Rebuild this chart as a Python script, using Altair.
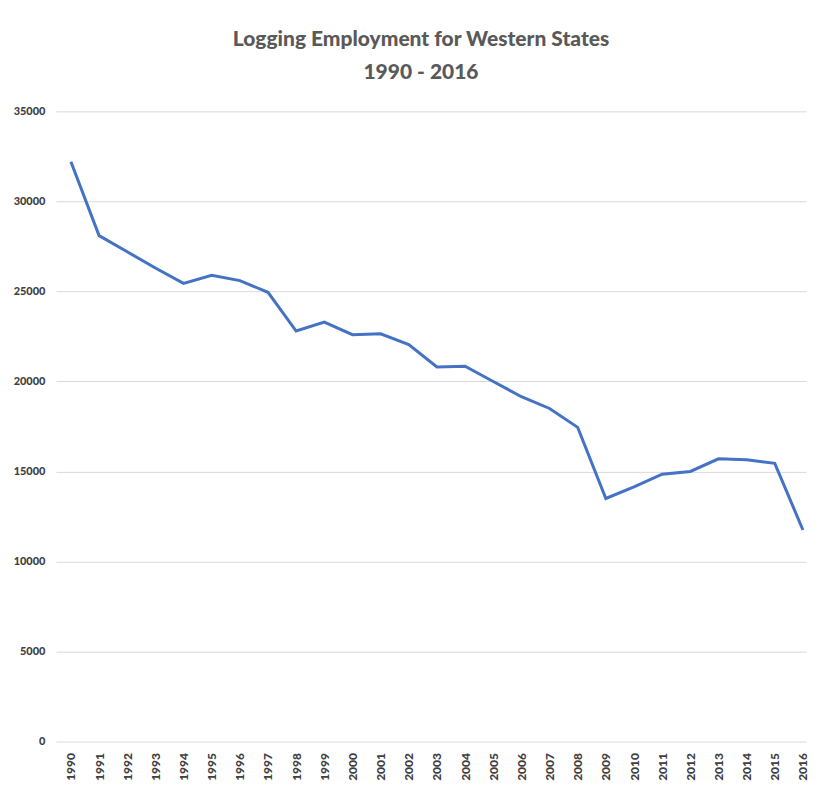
import altair as alt
import pandas as pd

years = list(range(1990, 2017))
employment = [32200, 28100, 27200, 26300, 25450, 25900, 25600, 24950, 22800, 23300,
              22600, 22650, 22050, 20800, 20850, 20000, 19150, 18500, 17450, 13500,
              14150, 14850, 15000, 15700, 15650, 15450, 11750]
y_ticks = [0, 5000, 10000, 15000, 20000, 25000, 30000, 35000]
title_lines = ["Logging Employment for Western States", "1990 - 2016"]

df = pd.DataFrame({"year": years, "employment": employment})

FONT = "Lato, sans-serif"

chart = alt.Chart(df).mark_line(color="#4472C4", strokeWidth=3).encode(
    x=alt.X("year:Q",
            scale=alt.Scale(domain=[1989.468, 2016.109], nice=False, zero=False),
            axis=alt.Axis(values=years, format="d", labelAngle=270, title=None,
                          grid=False, ticks=False, domain=False,
                          labelFont=FONT, labelFontSize=12, labelFontWeight=900,
                          labelColor="#404040", labelPadding=11,
                          labelAlign="right", labelBaseline="middle")),
    y=alt.Y("employment:Q",
            scale=alt.Scale(domain=[0, 35000], nice=False),
            axis=alt.Axis(values=y_ticks, format="d", title=None, ticks=False,
                          domain=False, gridColor="#d9d9d9", gridWidth=1,
                          labelFont=FONT, labelFontSize=11, labelFontWeight=900,
                          labelColor="#404040", labelPadding=11)),
).properties(
    width=751,
    height=631,
    title=alt.TitleParams(text=title_lines, anchor="middle", fontSize=21,
                          font=FONT, fontWeight=900, color="#595959",
                          lineHeight=33, offset=22, dx=-10),
    padding={"left": 5, "top": 21, "right": 0, "bottom": 5},
).configure_view(stroke=None)

chart.save("out.html", embed_options={"renderer": "svg", "actions": False})
